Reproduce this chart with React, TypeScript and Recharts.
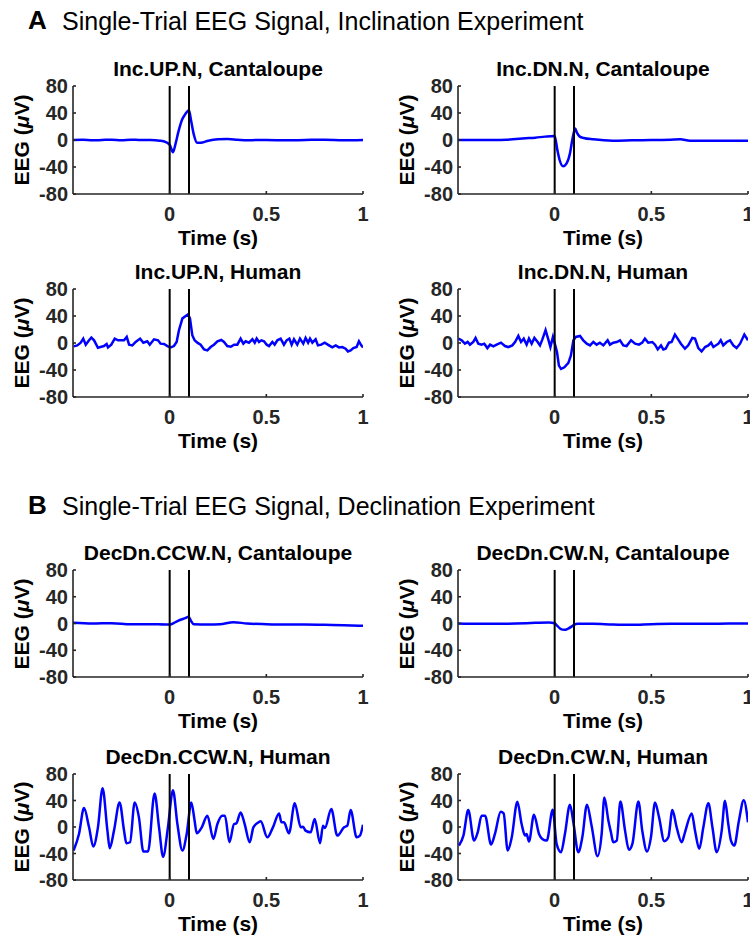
import React from 'react';
import { LineChart, Line, XAxis, YAxis, ReferenceLine } from 'recharts';

// time axis (s) and amplitude (µV)
const incUpCantT = [-0.5, -0.45, -0.4, -0.35, -0.3, -0.25, -0.2, -0.15, -0.1, -0.05, -0.02, 0, 0.017, 0.03, 0.045, 0.064, 0.08, 0.1, 0.11, 0.125, 0.142, 0.16, 0.2, 0.25, 0.3, 0.35, 0.4, 0.45, 0.5, 0.6, 0.7, 0.8, 0.9, 1];
const incUpCantV = [0, 0.5, -0.5, 0, 0.5, -0.5, 0.5, 0, 0, -1, -3, -7, -18, -6, 12, 30, 38, 44, 30, 8, -4, -4, -1, 1, 1.5, 0.5, -0.5, 0, 0, -0.5, 0, 0.5, -0.5, 0];

const incDnCantT = [-0.5, -0.4, -0.3, -0.25, -0.2, -0.15, -0.1, -0.05, 0, 0.014, 0.026, 0.044, 0.061, 0.079, 0.091, 0.1, 0.106, 0.115, 0.13, 0.15, 0.2, 0.3, 0.4, 0.5, 0.6, 0.65, 0.7, 0.8, 0.9, 1];
const incDnCantV = [0, 0, 0, 0.5, 1.5, 2.5, 3.5, 5, 6, -15, -30, -39, -35, -20, 0, 12, 17, 11, 5, 3, 1, -1, -0.5, 0, 0.5, 1, -1, -1, -1, -1];

const incUpHumT = [-0.497, -0.478, -0.46, -0.447, -0.434, -0.417, -0.405, -0.391, -0.371, -0.353, -0.34, -0.326, -0.319, -0.302, -0.284, -0.267, -0.253, -0.236, -0.222, -0.21, -0.193, -0.176, -0.153, -0.136, -0.116, -0.103, -0.081, -0.06, -0.047, -0.029, -0.012, 0.005, 0.022, 0.036, 0.048, 0.066, 0.083, 0.095, 0.105, 0.117, 0.129, 0.143, 0.16, 0.178, 0.195, 0.212, 0.229, 0.247, 0.267, 0.281, 0.298, 0.316, 0.333, 0.35, 0.367, 0.381, 0.393, 0.41, 0.428, 0.44, 0.45, 0.462, 0.474, 0.488, 0.502, 0.514, 0.531, 0.543, 0.557, 0.574, 0.591, 0.605, 0.619, 0.631, 0.643, 0.66, 0.674, 0.691, 0.703, 0.716, 0.726, 0.738, 0.755, 0.767, 0.784, 0.802, 0.824, 0.841, 0.859, 0.876, 0.893, 0.91, 0.922, 0.936, 0.95, 0.967, 0.979, 0.991, 1];
const incUpHumV = [-5, -3.5, 0.5, 6.5, -2.5, 4, 8, 4, -7, -5.5, -4.5, -1.5, -6.5, -2.5, 6.5, 4, 4, 4, 9, -2.5, -3.5, 1.5, 6.5, 0.5, 2.5, -2.5, 5.5, 4, -1, -1.5, -4.5, -6.5, -4.5, 1.5, 19, 36.5, 40, 42.5, 36.5, 11.5, 4, 0.5, -2.5, -9.5, -11, -6, -2.5, 2.5, 4.5, 1.5, -4.5, -5.5, -2.5, -2.5, 6.5, -1, 2.5, 0.5, 5.5, 0.5, 6.5, 1.5, 4, 2.5, -2.5, -4.5, 1.5, -2.5, 4, 6.5, -2.5, 4, 6.5, -2.5, 5.5, -2.5, 6.5, -1, 7.5, 0.5, 6.5, 0.5, 5.5, -3.5, -2.5, 0.5, -3.5, -6.5, -3.5, -6.5, -6, -8.5, -12.5, -11, -7.5, -6, 2.5, -3.5, -6.5];

const incDnHumT = [-0.498, -0.481, -0.464, -0.45, -0.438, -0.421, -0.409, -0.395, -0.378, -0.364, -0.348, -0.334, -0.317, -0.3, -0.278, -0.257, -0.24, -0.219, -0.205, -0.188, -0.174, -0.16, -0.145, -0.133, -0.119, -0.105, -0.088, -0.076, -0.064, -0.047, -0.033, -0.022, -0.009, 0.002, 0.012, 0.022, 0.033, 0.05, 0.071, 0.084, 0.097, 0.109, 0.131, 0.148, 0.166, 0.183, 0.2, 0.217, 0.234, 0.252, 0.274, 0.286, 0.303, 0.321, 0.338, 0.355, 0.372, 0.395, 0.416, 0.436, 0.453, 0.467, 0.484, 0.505, 0.519, 0.533, 0.55, 0.562, 0.574, 0.591, 0.605, 0.622, 0.636, 0.653, 0.674, 0.691, 0.712, 0.726, 0.743, 0.76, 0.778, 0.795, 0.809, 0.821, 0.847, 0.859, 0.872, 0.89, 0.907, 0.924, 0.941, 0.959, 0.981, 1];
const incDnHumV = [6.5, 4, -1, 1.5, -2.5, 1.5, 7.5, -1, -2.5, -1, -7.5, -2.5, -5, -2.5, 0.5, -4.5, -6, -3.5, 1.5, 10.5, 1.5, 6.5, -2.5, 6.5, -1, 7.5, 1.5, -3.5, 5, 19, 5.5, -6, 9, -2.5, -13.5, -33.5, -38.5, -36, -29.5, -18.5, 4, 9, 10.5, 4, -1, -3.5, 1.5, -2.5, 0.5, -3.5, 4, -2.5, 0.5, 1.5, 4, -3.5, -4.5, 4, -1, -2.5, 0.5, 6.5, 0.5, 1.5, -2.5, -9.5, -3.5, -9.5, -8.5, 0.5, 1.5, 12.5, 6.5, -1, -8.5, -3.5, 7.5, 6.5, -7.5, -12.5, -6, -3.5, 0.5, -6, -1, 4, -3.5, 1.5, 4, -3.5, -7.5, -1, 12.5, 4];

const ccwCantT = [-0.5, -0.4, -0.3, -0.2, -0.1, -0.02, 0, 0.03, 0.06, 0.08, 0.098, 0.11, 0.125, 0.2, 0.26, 0.33, 0.4, 0.5, 0.6, 0.7, 0.8, 0.9, 1];
const ccwCantV = [1, 0, 0.5, -1, -1, -1.5, -1.5, 2, 6, 8, 10, 4, -1, -1.5, -1, 2, 0, -1, -1.5, -1.5, -2, -2.5, -3.5];

const cwCantT = [-0.5, -0.4, -0.3, -0.2, -0.1, -0.03, 0, 0.015, 0.03, 0.05, 0.07, 0.09, 0.1, 0.12, 0.2, 0.3, 0.4, 0.5, 0.6, 0.7, 0.8, 0.9, 1];
const cwCantV = [0, -0.5, -0.5, 0, 1, 1.5, 0.5, -4, -8, -9.5, -7.5, -4, -2, -0.5, -0.5, -1.5, -2, -1, -0.5, -0.5, -0.5, 0, 0];

const ccwHumT = [-0.497, -0.469, -0.443, -0.417, -0.395, -0.371, -0.347, -0.322, -0.31, -0.288, -0.259, -0.236, -0.224, -0.205, -0.181, -0.159, -0.136, -0.112, -0.078, -0.055, -0.034, -0.009, 0.017, 0.04, 0.066, 0.088, 0.112, 0.129, 0.14, 0.166, 0.195, 0.226, 0.247, 0.272, 0.286, 0.309, 0.333, 0.345, 0.367, 0.388, 0.414, 0.433, 0.459, 0.471, 0.505, 0.534, 0.566, 0.578, 0.591, 0.617, 0.647, 0.678, 0.69, 0.703, 0.729, 0.75, 0.778, 0.793, 0.803, 0.836, 0.867, 0.902, 0.919, 0.936, 0.967, 0.984, 1];
const ccwHumV = [-35.5, -10.5, 28.5, -0.5, -29.5, -0.5, 58.5, -5.5, -32, -5.5, 37, -5.5, -24.5, -23, 37, 14.5, -37, -37, 50.5, -0.5, -45, -0.5, 55.5, 4.5, -35.5, -10.5, 37, 9.5, -9.5, -0.5, 17, -18, 4.5, 17, 17, -23, 4.5, 5.5, 22, 4.5, -23, -0.5, 7, 8.5, -15.5, -0.5, 20.5, 7, 7, -9.5, 36, -0.5, 0.5, -5.5, -8, 12, -24.5, 2, -1.5, 27, -13, -0.5, 2, 25.5, -15.5, -13, 3.5];

const cwHumT = [-0.495, -0.472, -0.447, -0.417, -0.398, -0.378, -0.36, -0.329, -0.309, -0.279, -0.264, -0.243, -0.222, -0.193, -0.171, -0.153, -0.145, -0.133, -0.107, -0.081, -0.064, -0.041, -0.01, 0.01, 0.033, 0.053, 0.079, 0.098, 0.122, 0.143, 0.167, 0.191, 0.222, 0.243, 0.257, 0.278, 0.291, 0.303, 0.321, 0.34, 0.364, 0.384, 0.402, 0.433, 0.453, 0.478, 0.498, 0.519, 0.54, 0.567, 0.588, 0.609, 0.631, 0.657, 0.674, 0.709, 0.726, 0.748, 0.769, 0.795, 0.816, 0.838, 0.864, 0.881, 0.898, 0.912, 0.929, 0.953, 0.978, 1];
const cwHumV = [-28, -13, 25.5, -20.5, -8, 17, 17, -26.5, -10.5, 23, 20.5, -35.5, -15.5, 38, 4.5, -13, -10.5, -22, 18.5, -10.5, -18, -20.5, 26, -25.5, -38, -10.5, 33.5, 4.5, -38, -15.5, 33.5, 2, -44, -10.5, 44.5, 9.5, -8, -23, -20.5, 38.5, -5.5, -34.5, -25.5, 38.5, -5.5, -37, -15.5, 37, 14.5, -21.5, -15.5, 25.5, -0.5, -23, -8, 20.5, -5.5, -33, -0.5, 36, -0.5, -38, -5.5, 39.5, 4.5, -20.5, -28, 9.5, 40.5, 7];

const xTicks = [0, 0.5, 1];
const yTicks = [-80, -40, 0, 40, 80];
const markers = [0, 0.1];

const FONT = '"Liberation Sans", Arial, Helvetica, sans-serif';
const AXIS = '#262626';

const toPoints = (t: number[], v: number[]) => t.map((x, i) => ({ t: x, v: v[i] }));

type PanelProps = {
  title: string;
  t: number[];
  v: number[];
  left: number;
  plotTop: number;
  plotH: number;
  curve: 'monotone' | 'linear';
};

const EegPanel = ({ title, t, v, left, plotTop, plotH, curve }: PanelProps) => {
  const data = toPoints(t, v);
  const tickStyle = { fill: AXIS, fontSize: 20, fontWeight: 'bold', fontFamily: FONT };
  const plotLeft = left + 73;
  const plotBottom = plotTop + plotH;
  return (
    <>
      <div
        style={{
          position: 'absolute', left: plotLeft - 20, width: 330, top: plotTop - 28,
          textAlign: 'center', fontFamily: FONT, fontWeight: 'bold', fontSize: 21,
          lineHeight: '22px', color: '#000', whiteSpace: 'nowrap',
        }}
      >
        {title}
      </div>
      <div style={{ position: 'absolute', left, top: plotTop - 30 }}>
        <LineChart width={375} height={30 + plotH + 60} margin={{ top: 30, right: 12, bottom: 0, left: 0 }}>
          <XAxis
            dataKey="t" type="number" domain={[-0.5, 1]} ticks={xTicks} interval={0}
            allowDataOverflow height={60} tickSize={-3} tickMargin={16}
            stroke={AXIS} strokeWidth={1.6} tick={tickStyle}
          />
          <XAxis
            xAxisId="top" orientation="top" dataKey="t" type="number" domain={[-0.5, 1]}
            ticks={xTicks} interval={0} height={0} tickSize={-3}
            stroke={AXIS} strokeWidth={1.6} tickFormatter={() => ''}
          />
          <YAxis
            type="number" domain={[-80, 80]} ticks={yTicks} interval={0} allowDataOverflow
            width={73} tickSize={-3} tickMargin={8} stroke={AXIS} strokeWidth={1.6} tick={tickStyle}
          />
          <YAxis
            yAxisId="right" orientation="right" type="number" domain={[-80, 80]} ticks={yTicks}
            interval={0} width={0} tickSize={-3} stroke={AXIS} strokeWidth={1.6} tickFormatter={() => ''}
          />
          <Line
            data={data} dataKey="v" type={curve} stroke="#0000ff" strokeWidth={2.5}
            dot={false} isAnimationActive={false}
          />
          {markers.map(m => (
            <ReferenceLine key={m} x={m} stroke="#000" strokeWidth={2} />
          ))}
        </LineChart>
      </div>
      <div
        style={{
          position: 'absolute', left: left + 22, top: plotTop + plotH / 2,
          transform: 'translate(-50%, -50%) rotate(-90deg)', fontFamily: FONT,
          fontWeight: 'bold', fontSize: 21, lineHeight: '22px', color: '#000', whiteSpace: 'nowrap',
        }}
      >
        EEG (<span style={{ fontStyle: 'italic' }}>μ</span>V)
      </div>
      <div
        style={{
          position: 'absolute', left: plotLeft, width: 290, top: plotBottom + 33,
          textAlign: 'center', fontFamily: FONT, fontWeight: 'bold', fontSize: 21,
          lineHeight: '22px', color: '#000',
        }}
      >
        Time (s)
      </div>
    </>
  );
};

const Header = ({ letter, text, top }: { letter: string; text: string; top: number }) => (
  <>
    <div style={{ position: 'absolute', left: 28, top, fontFamily: FONT, fontWeight: 'bold', fontSize: 26, lineHeight: '28px' }}>
      {letter}
    </div>
    <div style={{ position: 'absolute', left: 62, top: top + 1, fontFamily: FONT, fontSize: 25, lineHeight: '28px', whiteSpace: 'nowrap' }}>
      {text}
    </div>
  </>
);

export default function App() {
  return (
    <div style={{ position: 'absolute', left: 0, top: 0, width: 750, height: 936, background: '#fff', overflow: 'hidden' }}>
      <Header letter="A" text="Single-Trial EEG Signal, Inclination Experiment" top={6} />
      <Header letter="B" text="Single-Trial EEG Signal, Declination Experiment" top={491} />

      <EegPanel title="Inc.UP.N, Cantaloupe" t={incUpCantT} v={incUpCantV} left={0} plotTop={86} plotH={108} curve="monotone" />
      <EegPanel title="Inc.DN.N, Cantaloupe" t={incDnCantT} v={incDnCantV} left={385} plotTop={86} plotH={108} curve="monotone" />
      <EegPanel title="Inc.UP.N, Human" t={incUpHumT} v={incUpHumV} left={0} plotTop={289} plotH={108} curve="linear" />
      <EegPanel title="Inc.DN.N, Human" t={incDnHumT} v={incDnHumV} left={385} plotTop={289} plotH={108} curve="linear" />

      <EegPanel title="DecDn.CCW.N, Cantaloupe" t={ccwCantT} v={ccwCantV} left={0} plotTop={570} plotH={107} curve="monotone" />
      <EegPanel title="DecDn.CW.N, Cantaloupe" t={cwCantT} v={cwCantV} left={385} plotTop={570} plotH={107} curve="monotone" />
      <EegPanel title="DecDn.CCW.N, Human" t={ccwHumT} v={ccwHumV} left={0} plotTop={774} plotH={106} curve="monotone" />
      <EegPanel title="DecDn.CW.N, Human" t={cwHumT} v={cwHumV} left={385} plotTop={774} plotH={106} curve="monotone" />
    </div>
  );
}
